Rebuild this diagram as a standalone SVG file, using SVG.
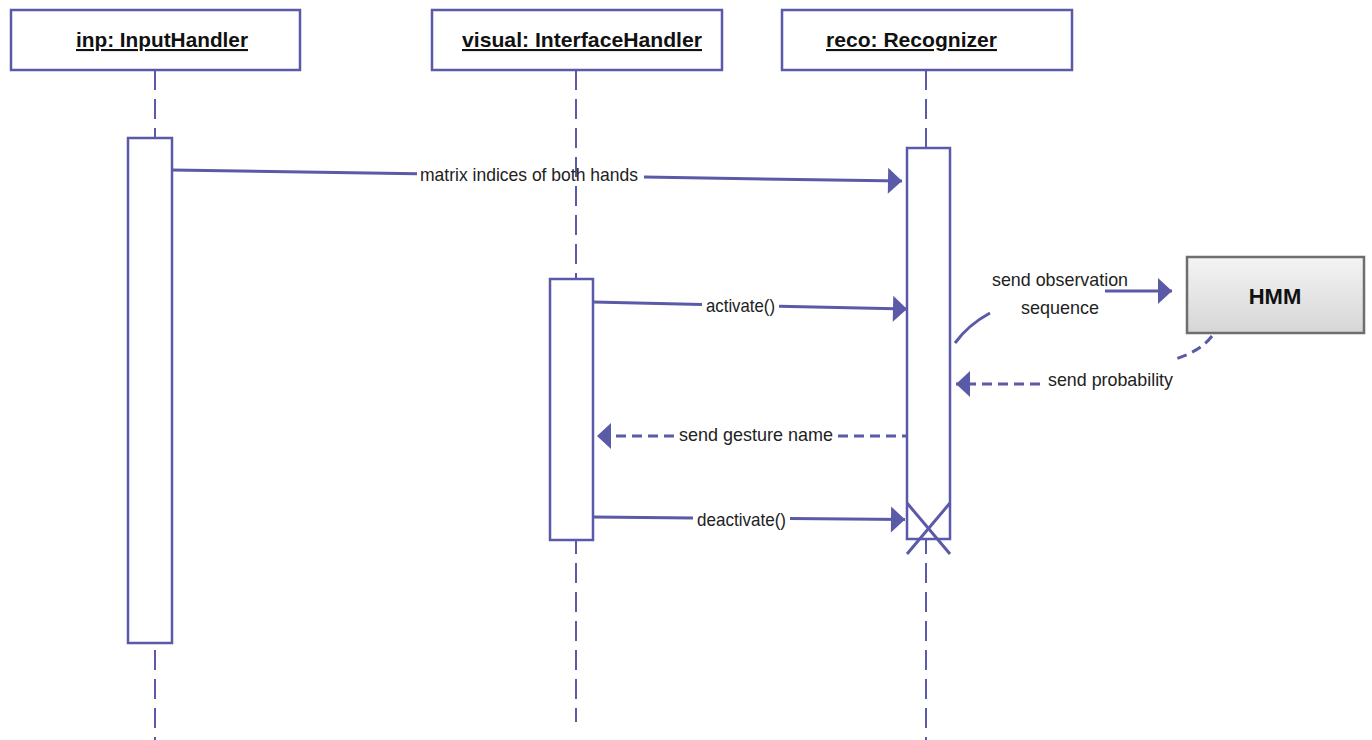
<svg xmlns="http://www.w3.org/2000/svg" width="1372" height="740" viewBox="0 0 1372 740">
  <style>
    .box { fill: #ffffff; stroke: #5a5aa8; stroke-width: 2.5; }
    .life { fill: none; stroke: #5a5aa8; stroke-width: 2; stroke-dasharray: 20 9; }
    .msg { fill: none; stroke: #5a5aa8; stroke-width: 3; }
    .ret { fill: none; stroke: #5a5aa8; stroke-width: 3; stroke-dasharray: 10 6; }
    .head { font-family: "Liberation Sans", Arial, sans-serif; font-size: 21px; font-weight: bold; text-decoration: underline; fill: #111; }
    .lbl { font-family: "Liberation Sans", Arial, sans-serif; font-size: 19px; fill: #222; }
    .hmm { font-family: "Liberation Sans", Arial, sans-serif; font-size: 22px; font-weight: bold; fill: #111; }
  </style>
  <defs>
    <marker id="arrow" markerUnits="userSpaceOnUse" markerWidth="16" markerHeight="28" refX="14" refY="13" orient="auto" overflow="visible">
      <path d="M0,0 L14,13 L0,26 Z" fill="#5a5aa8"/>
    </marker>
    <linearGradient id="hmmFill" x1="0" y1="0" x2="0" y2="1">
      <stop offset="0" stop-color="#f4f4f4"/>
      <stop offset="1" stop-color="#d6d6d6"/>
    </linearGradient>
  </defs>
  <rect width="1372" height="740" fill="#ffffff"/>

  <!-- lifelines -->
  <g id="lifelines">
    <line class="life" x1="155" y1="70" x2="155" y2="740"/>
    <line class="life" x1="576" y1="70" x2="576" y2="722"/>
    <line class="life" x1="926" y1="70" x2="926" y2="740"/>
  </g>

  <g id="inp">
    <rect class="box" x="11" y="10" width="289" height="60"/>
    <text class="head" x="76" y="47" textLength="172" lengthAdjust="spacingAndGlyphs">inp: InputHandler</text>
    <rect class="box" x="128" y="138" width="44" height="505"/>
  </g>

  <g id="visual">
    <rect class="box" x="432" y="10" width="290" height="60"/>
    <text class="head" x="462" y="47" textLength="240" lengthAdjust="spacingAndGlyphs">visual: InterfaceHandler</text>
    <rect class="box" x="550" y="279" width="43" height="261"/>
  </g>

  <g id="reco">
    <rect class="box" x="782" y="10" width="290" height="60"/>
    <text class="head" x="826" y="47" textLength="171" lengthAdjust="spacingAndGlyphs">reco: Recognizer</text>
    <rect class="box" x="907" y="148" width="43" height="391"/>
    <!-- destruction mark -->
    <line class="msg" x1="907" y1="503" x2="950" y2="554"/>
    <line class="msg" x1="950" y1="503" x2="907" y2="554"/>
  </g>

  <g id="hmm">
    <rect x="1187" y="257" width="177" height="76" fill="url(#hmmFill)" stroke="#6e6e6e" stroke-width="2.5"/>
    <text class="hmm" x="1275" y="304" text-anchor="middle">HMM</text>
  </g>

  <!-- messages -->
  <g id="connectors">
    <line class="msg" x1="172" y1="170" x2="417" y2="173.7"/>
    <line class="msg" x1="644" y1="177.1" x2="902" y2="181" marker-end="url(#arrow)"/>
    <text class="lbl" x="420" y="181" textLength="218" lengthAdjust="spacingAndGlyphs">matrix indices of both hands</text>

    <line class="msg" x1="593" y1="302" x2="702" y2="304.4"/>
    <line class="msg" x1="779" y1="306.2" x2="907" y2="309" marker-end="url(#arrow)"/>
    <text class="lbl" x="706" y="312" textLength="69" lengthAdjust="spacingAndGlyphs">activate()</text>

    <line class="ret" x1="838" y1="436" x2="907" y2="436"/>
    <line class="ret" x1="674" y1="436" x2="597" y2="436" marker-end="url(#arrow)"/>
    <text class="lbl" x="679" y="441" textLength="154" lengthAdjust="spacingAndGlyphs">send gesture name</text>

    <line class="msg" x1="593" y1="517" x2="693" y2="518"/>
    <line class="msg" x1="790" y1="518.5" x2="905" y2="519.5" marker-end="url(#arrow)"/>
    <text class="lbl" x="697" y="526" textLength="89" lengthAdjust="spacingAndGlyphs">deactivate()</text>

    <path class="msg" d="M955,343 Q968,325 990,313" stroke-width="2"/>
    <line class="msg" x1="1105" y1="291" x2="1172" y2="291" marker-end="url(#arrow)"/>
    <text class="lbl" x="992" y="286" textLength="136" lengthAdjust="spacingAndGlyphs">send observation</text>
    <text class="lbl" x="1021" y="314" textLength="78" lengthAdjust="spacingAndGlyphs">sequence</text>

    <path class="ret" d="M1212,336 Q1200,352 1172,360"/>
    <line class="ret" x1="1040" y1="384" x2="956" y2="384" marker-end="url(#arrow)"/>
    <text class="lbl" x="1048" y="386" textLength="125" lengthAdjust="spacingAndGlyphs">send probability</text>
  </g>
</svg>
